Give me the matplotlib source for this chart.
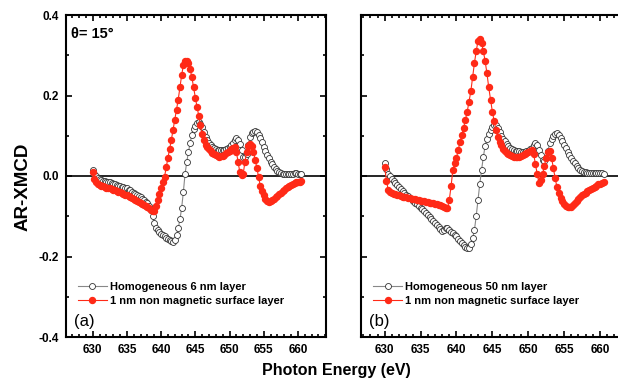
import matplotlib
matplotlib.use("Agg")
import matplotlib.pyplot as plt
from matplotlib.ticker import MultipleLocator, FormatStrFormatter

plt.rcParams['font.family'] = ['Liberation Sans', 'DejaVu Sans']

# photon energies (eV), 0.25 eV steps from 630 to 660.5, 10 values per row below
energy = [630.0 + 0.25 * i for i in range(123)]

# panel (a)
homog_6nm = [
    0.015, 0.006, 0.000, -0.005, -0.008, -0.010, -0.012, -0.013, -0.014, -0.015,
    -0.016, -0.018, -0.019, -0.021, -0.022, -0.024, -0.025, -0.027, -0.028, -0.030,
    -0.031, -0.034, -0.036, -0.039, -0.041, -0.044, -0.047, -0.050, -0.053, -0.056,
    -0.060, -0.064, -0.068, -0.075, -0.085, -0.100, -0.118, -0.128, -0.135, -0.140,
    -0.143, -0.147, -0.150, -0.153, -0.156, -0.159, -0.162, -0.163, -0.158, -0.147,
    -0.130, -0.108, -0.080, -0.040, 0.005, 0.035, 0.060, 0.083, 0.103, 0.116,
    0.125, 0.131, 0.133, 0.130, 0.122, 0.110, 0.098, 0.089, 0.082, 0.077,
    0.073, 0.070, 0.067, 0.065, 0.064, 0.064, 0.064, 0.065, 0.066, 0.069,
    0.072, 0.077, 0.082, 0.089, 0.095, 0.090, 0.080, 0.064, 0.048, 0.046,
    0.055, 0.077, 0.098, 0.106, 0.110, 0.111, 0.110, 0.103, 0.095, 0.084,
    0.072, 0.062, 0.052, 0.044, 0.036, 0.029, 0.022, 0.017, 0.012, 0.009,
    0.007, 0.006, 0.005, 0.005, 0.005, 0.005, 0.006, 0.006, 0.007, 0.007,
    0.006, 0.005, 0.004]
surface_a = [
    0.010, -0.008, -0.016, -0.020, -0.022, -0.024, -0.026, -0.028, -0.029, -0.030,
    -0.031, -0.033, -0.034, -0.036, -0.037, -0.039, -0.040, -0.042, -0.044, -0.046,
    -0.048, -0.050, -0.053, -0.055, -0.057, -0.059, -0.061, -0.064, -0.066, -0.069,
    -0.071, -0.074, -0.077, -0.080, -0.084, -0.088, -0.088, -0.075, -0.060, -0.045,
    -0.030, -0.016, -0.002, 0.022, 0.045, 0.068, 0.090, 0.115, 0.140, 0.165,
    0.190, 0.220, 0.250, 0.275, 0.285, 0.285, 0.280, 0.265, 0.245, 0.220,
    0.195, 0.172, 0.150, 0.127, 0.105, 0.090, 0.078, 0.072, 0.068, 0.063,
    0.058, 0.055, 0.052, 0.050, 0.048, 0.049, 0.050, 0.053, 0.056, 0.060,
    0.063, 0.067, 0.070, 0.072, 0.060, 0.035, 0.010, 0.002, 0.005, 0.035,
    0.060, 0.075, 0.080, 0.075, 0.060, 0.040, 0.020, -0.003, -0.025, -0.038,
    -0.048, -0.056, -0.062, -0.064, -0.063, -0.060, -0.057, -0.053, -0.049, -0.045,
    -0.042, -0.038, -0.035, -0.031, -0.028, -0.025, -0.022, -0.020, -0.018, -0.016,
    -0.015, -0.014, -0.013]

# panel (b)
homog_50nm = [
    0.032, 0.018, 0.006, -0.001, -0.008, -0.013, -0.018, -0.023, -0.028, -0.033,
    -0.038, -0.042, -0.046, -0.050, -0.054, -0.058, -0.062, -0.066, -0.070, -0.075,
    -0.079, -0.083, -0.088, -0.092, -0.097, -0.101, -0.106, -0.111, -0.116, -0.121,
    -0.126, -0.132, -0.137, -0.133, -0.128, -0.130, -0.135, -0.139, -0.142, -0.146,
    -0.150, -0.156, -0.162, -0.167, -0.172, -0.176, -0.180, -0.178, -0.170, -0.155,
    -0.135, -0.100, -0.060, -0.020, 0.015, 0.048, 0.075, 0.092, 0.105, 0.115,
    0.122, 0.126, 0.127, 0.120, 0.110, 0.100, 0.092, 0.086, 0.080, 0.075,
    0.070, 0.067, 0.065, 0.063, 0.062, 0.061, 0.060, 0.060, 0.060, 0.061,
    0.063, 0.066, 0.070, 0.076, 0.083, 0.076, 0.065, 0.052, 0.040, 0.038,
    0.045, 0.062, 0.082, 0.092, 0.100, 0.105, 0.108, 0.103, 0.095, 0.087,
    0.078, 0.069, 0.060, 0.052, 0.045, 0.038, 0.032, 0.026, 0.020, 0.016,
    0.013, 0.011, 0.009, 0.008, 0.007, 0.007, 0.007, 0.007, 0.007, 0.008,
    0.008, 0.007, 0.006]
surface_b = [
    0.022, -0.012, -0.035, -0.039, -0.042, -0.044, -0.045, -0.047, -0.048, -0.050,
    -0.051, -0.052, -0.053, -0.054, -0.055, -0.056, -0.057, -0.058, -0.059, -0.060,
    -0.061, -0.062, -0.063, -0.064, -0.065, -0.066, -0.067, -0.068, -0.069, -0.070,
    -0.072, -0.073, -0.075, -0.077, -0.079, -0.080, -0.060, -0.025, 0.015, 0.032,
    0.045, 0.065, 0.085, 0.102, 0.120, 0.140, 0.160, 0.185, 0.210, 0.245,
    0.280, 0.310, 0.335, 0.340, 0.330, 0.310, 0.285, 0.255, 0.220, 0.190,
    0.160, 0.137, 0.115, 0.098, 0.085, 0.076, 0.068, 0.062, 0.058, 0.055,
    0.052, 0.050, 0.048, 0.047, 0.047, 0.048, 0.050, 0.052, 0.055, 0.057,
    0.060, 0.063, 0.065, 0.055, 0.030, 0.005, -0.017, -0.010, 0.005, 0.025,
    0.045, 0.060, 0.062, 0.045, 0.020, -0.005, -0.027, -0.042, -0.055, -0.063,
    -0.070, -0.074, -0.077, -0.077, -0.076, -0.072, -0.068, -0.062, -0.057, -0.052,
    -0.048, -0.045, -0.041, -0.038, -0.035, -0.032, -0.030, -0.027, -0.024, -0.021,
    -0.019, -0.017, -0.015]

RED = '#ff2a17'


def style_axes(ax, show_ylabels):
    ax.set_ylim(-0.4, 0.4)
    ax.xaxis.set_major_locator(MultipleLocator(5))
    ax.xaxis.set_minor_locator(MultipleLocator(1))
    ax.yaxis.set_major_locator(MultipleLocator(0.2))
    ax.yaxis.set_minor_locator(MultipleLocator(0.1))
    ax.set_xticks([630, 635, 640, 645, 650, 655, 660])
    ax.tick_params(which='both', direction='in', top=True, right=True, width=1.2)
    ax.tick_params(which='major', length=4, labelsize=8.5, pad=5)
    ax.tick_params(which='minor', length=2)
    for lab in ax.get_xticklabels() + ax.get_yticklabels():
        lab.set_fontweight('bold')
    if show_ylabels:
        ax.yaxis.set_major_formatter(FormatStrFormatter('%.1f'))
    else:
        ax.tick_params(labelleft=False)
    for sp in ax.spines.values():
        sp.set_linewidth(1.5)
    ax.axhline(0, color='black', lw=1.2, zorder=1)


def draw_panel(ax, homog, surf, homog_label, tag):
    ax.plot(energy, homog, '-o', color='#888888', lw=0.8, ms=4.3, mfc='white',
            mec='#333333', mew=0.6, label=homog_label, zorder=3)
    ax.plot(energy, surf, '-o', color=RED, lw=0.8, ms=4.3, mfc=RED, mec=RED,
            label='1 nm non magnetic surface layer', zorder=4)
    leg = ax.legend(loc='lower left', bbox_to_anchor=(0.02, 0.075), frameon=False,
                    fontsize=8, handlelength=2.6, handletextpad=0.3,
                    labelspacing=0.35, borderaxespad=0.2)
    for t in leg.get_texts():
        t.set_fontweight('bold')
    ax.text(0.03, 0.025, tag, transform=ax.transAxes, fontsize=12,
            ha='left', va='bottom')


fig = plt.figure(figsize=(6.18, 3.83), dpi=100)
ax1 = fig.add_axes([66 / 618, 46 / 383, 260 / 618, 322 / 383])
ax2 = fig.add_axes([361 / 618, 46 / 383, 272 / 618, 322 / 383])

draw_panel(ax1, homog_6nm, surface_a, 'Homogeneous 6 nm layer', '(a)')
draw_panel(ax2, homog_50nm, surface_b, 'Homogeneous 50 nm layer', '(b)')
style_axes(ax1, True)
style_axes(ax2, False)
ax1.set_xlim(626.1, 664.1)
ax2.set_xlim(626.7, 664.6)

ax1.text(0.02, 0.94, 'θ= 15°', transform=ax1.transAxes, fontsize=10.5,
         fontweight='bold', ha='left', va='center')
fig.text(23 / 618, 1 - 187 / 383, 'AR-XMCD', rotation=90, fontsize=13.5,
         fontweight='bold', ha='center', va='center')
fig.text(336 / 618, 1 - 371 / 383, 'Photon Energy (eV)', fontsize=11.5,
         fontweight='bold', ha='center', va='center')

fig.savefig('out.png', dpi=100)
